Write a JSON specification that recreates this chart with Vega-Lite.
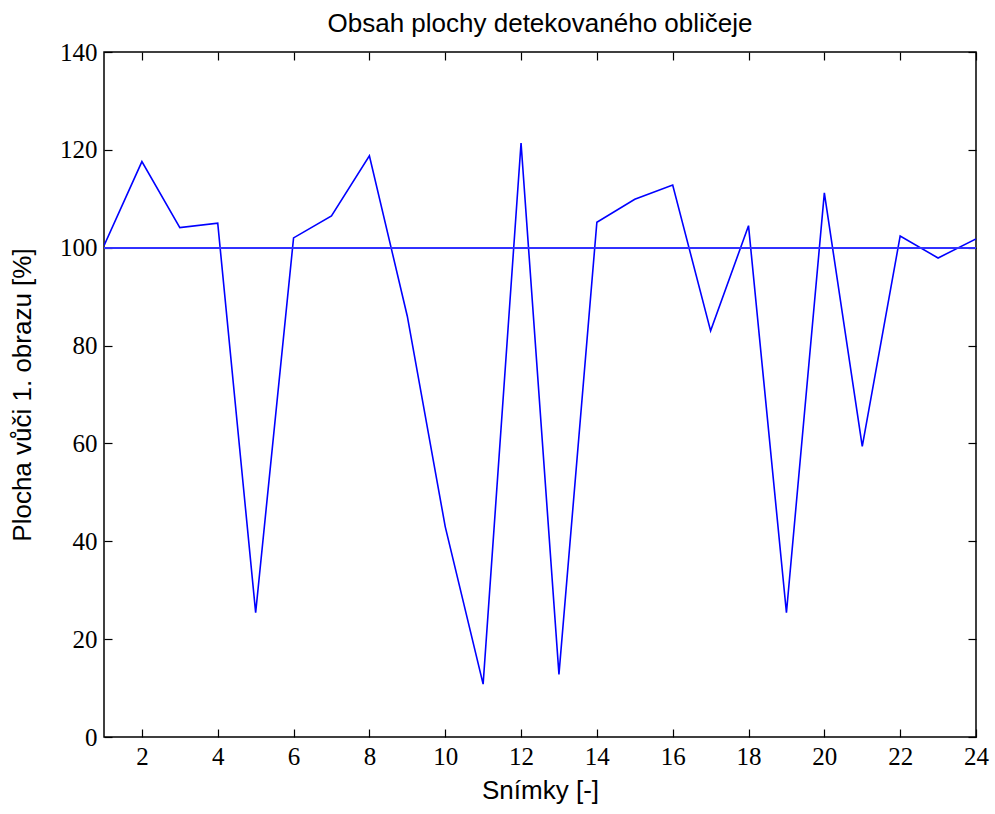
{
  "$schema": "https://vega.github.io/schema/vega-lite/v6.json",
  "autosize": "none",
  "width": 872,
  "height": 685,
  "padding": {"left": 104, "top": 52, "right": 19, "bottom": 77},
  "background": "white",
  "title": {"text": "Obsah plochy detekovaného obličeje", "font": "Liberation Sans", "fontSize": 26, "fontWeight": "normal", "color": "#000000", "offset": 3},
  "config": {"view": {"stroke": "#000000", "strokeWidth": 1.5}},
  "data": {"values": [
    {"snimek": 1, "plocha": 100.4},
    {"snimek": 2, "plocha": 117.6},
    {"snimek": 3, "plocha": 104.1},
    {"snimek": 4, "plocha": 105.0},
    {"snimek": 5, "plocha": 25.4},
    {"snimek": 6, "plocha": 102.0},
    {"snimek": 7, "plocha": 106.5},
    {"snimek": 8, "plocha": 118.8},
    {"snimek": 9, "plocha": 86.0},
    {"snimek": 10, "plocha": 43.0},
    {"snimek": 11, "plocha": 10.8},
    {"snimek": 12, "plocha": 121.4},
    {"snimek": 13, "plocha": 12.8},
    {"snimek": 14, "plocha": 105.2},
    {"snimek": 15, "plocha": 109.9},
    {"snimek": 16, "plocha": 112.8},
    {"snimek": 17, "plocha": 83.0},
    {"snimek": 18, "plocha": 104.5},
    {"snimek": 19, "plocha": 25.4},
    {"snimek": 20, "plocha": 111.2},
    {"snimek": 21, "plocha": 59.4},
    {"snimek": 22, "plocha": 102.4},
    {"snimek": 23, "plocha": 97.9},
    {"snimek": 24, "plocha": 101.8}
  ]},
  "layer": [
    {
      "mark": {"type": "line", "color": "#0000ff", "strokeWidth": 1.6, "clip": true},
      "encoding": {
        "x": {"field": "snimek", "type": "quantitative", "scale": {"domain": [1, 24], "nice": false, "zero": false},
          "axis": {"orient": "bottom", "values": [2,4,6,8,10,12,14,16,18,20,22,24], "grid": false, "domain": false, "tickSize": -8, "tickColor": "#000000", "tickWidth": 1.2, "labelFont": "Liberation Serif", "labelFontSize": 25, "labelColor": "#000000", "labelPadding": 15, "labelFlush": false, "labelOverlap": false, "title": "Snímky [-]", "titleFont": "Liberation Sans", "titleFontSize": 26, "titleFontWeight": "normal", "titleColor": "#000000", "titlePadding": 8}},
        "y": {"field": "plocha", "type": "quantitative", "scale": {"domain": [0, 140], "nice": false},
          "axis": {"orient": "left", "values": [0,20,40,60,80,100,120,140], "grid": false, "domain": false, "tickSize": -8, "tickColor": "#000000", "tickWidth": 1.2, "labelFont": "Liberation Serif", "labelFontSize": 25, "labelColor": "#000000", "labelPadding": 15, "labelFlush": false, "labelOverlap": false, "title": "Plocha vůči 1. obrazu [%]", "titleFont": "Liberation Sans", "titleFontSize": 26, "titleFontWeight": "normal", "titleColor": "#000000", "titlePadding": 24}}
      }
    },
    {
      "mark": {"type": "rule", "color": "#3333ff", "strokeWidth": 1.3},
      "encoding": {
        "y": {"datum": 100, "type": "quantitative", "scale": {"domain": [0, 140], "nice": false},
          "axis": {"orient": "right", "values": [0,20,40,60,80,100,120,140], "grid": false, "domain": false, "labels": false, "tickSize": -8, "tickColor": "#000000", "tickWidth": 1.2, "title": null}},
        "x": {"datum": 1, "type": "quantitative", "scale": {"domain": [1, 24], "nice": false, "zero": false},
          "axis": {"orient": "top", "values": [2,4,6,8,10,12,14,16,18,20,22,24], "grid": false, "domain": false, "labels": false, "tickSize": -8, "tickColor": "#000000", "tickWidth": 1.2, "title": null}},
        "x2": {"datum": 24}
      }
    }
  ],
  "resolve": {"axis": {"x": "independent", "y": "independent"}}
}
